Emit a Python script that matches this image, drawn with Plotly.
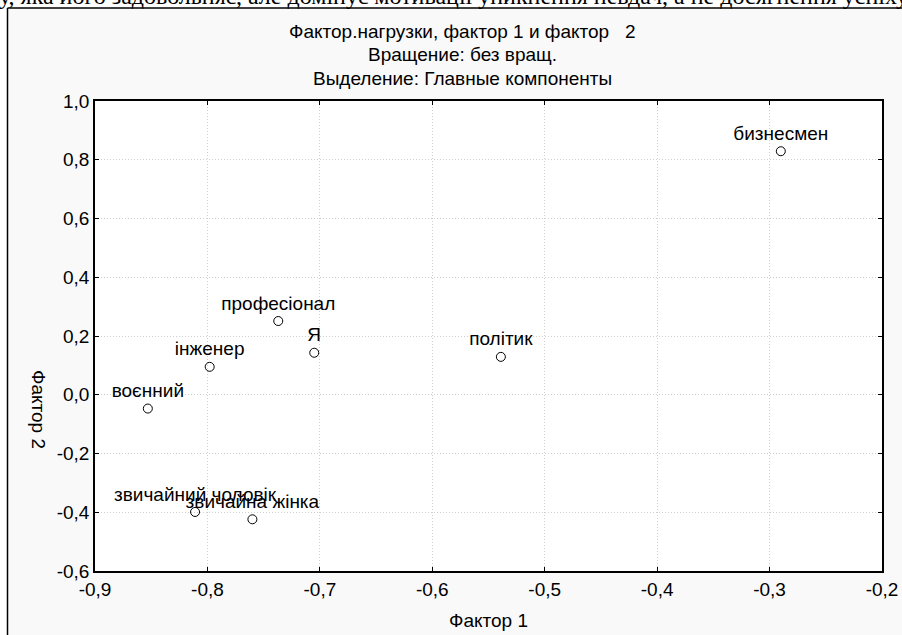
import plotly.graph_objects as go

labels = ["бизнесмен", "професіонал", "Я", "політик", "інженер", "воєнний",
          "звичайний чоловік", "звичайна жінка"]
factor1 = [-0.290, -0.737, -0.705, -0.539, -0.798, -0.853, -0.811, -0.760]
factor2 = [0.829, 0.251, 0.143, 0.129, 0.095, -0.047, -0.399, -0.424]

x_ticks = [-0.9, -0.8, -0.7, -0.6, -0.5, -0.4, -0.3, -0.2]
y_ticks = [-0.6, -0.4, -0.2, 0.0, 0.2, 0.4, 0.6, 0.8, 1.0]
x_ticklabels = ["-0,9", "-0,8", "-0,7", "-0,6", "-0,5", "-0,4", "-0,3", "-0,2"]
y_ticklabels = ["-0,6", "-0,4", "-0,2", "0,0", "0,2", "0,4", "0,6", "0,8", "1,0"]

title_lines = ["Фактор.нагрузки, фактор 1 и фактор\u00a0\u00a0\u00a02",
               "Вращение: без вращ.",
               "Выделение: Главные компоненты"]
x_title = "Фактор 1"
y_title = "Фактор 2"
doc_text = "у, яка його задовольняє, але домінує мотивації уникнення невдач, а не досягнення успіху"

W, H = 902, 635
L, R, T, B = 95, 20, 101, 64
pw, ph = W - L - R, H - T - B

def px(xp):
    return (xp - L) / pw

def py(yp):
    return (H - B - yp) / ph

FONT = "Liberation Sans, Arial, sans-serif"
FS = 19

fig = go.Figure()
fig.add_trace(go.Scatter(
    x=factor1, y=factor2, text=labels, mode="markers+text",
    textposition="top center",
    textfont=dict(family=FONT, size=FS, color="black"),
    marker=dict(symbol="circle-open", size=9, color="black", line=dict(width=1)),
    cliponaxis=False, hoverinfo="skip", showlegend=False))

axis_common = dict(
    showline=True, linecolor="black", linewidth=1.5, mirror="ticks",
    ticks="inside", ticklen=4, tickcolor="black", tickwidth=1,
    showgrid=True, gridcolor="#cfcfcf", griddash="1px,2px", gridwidth=1,
    zeroline=False, tickfont=dict(family=FONT, size=FS, color="black"),
)

fig.update_xaxes(range=[-0.9, -0.2], tickvals=x_ticks, ticktext=x_ticklabels, **axis_common)
fig.update_yaxes(range=[-0.6, 1.0], tickvals=y_ticks, ticktext=y_ticklabels, **axis_common)

annotations = []
for t, yp in zip(title_lines, [32, 55, 78]):
    annotations.append(dict(text=t, x=px(462), y=py(yp), xref="paper", yref="paper",
                            xanchor="center", yanchor="middle", showarrow=False,
                            font=dict(family=FONT, size=FS, color="black")))
annotations.append(dict(text=x_title, x=px(488), y=py(620), xref="paper", yref="paper",
                        xanchor="center", yanchor="middle", showarrow=False,
                        font=dict(family=FONT, size=FS, color="black")))
annotations.append(dict(text=y_title, x=px(39), y=py(409), xref="paper", yref="paper",
                        xanchor="center", yanchor="middle", showarrow=False, textangle=90,
                        font=dict(family=FONT, size=FS, color="black")))
annotations.append(dict(text=doc_text, x=px(-3), y=py(11), xref="paper", yref="paper",
                        xanchor="left", yanchor="bottom", showarrow=False,
                        font=dict(family="Liberation Serif, Times New Roman, serif", size=24, color="black")))

shapes = [
    dict(type="rect", xref="paper", yref="paper", x0=px(-20), x1=px(W + 20), y0=py(8), y1=py(-20),
         fillcolor="white", line=dict(width=0), layer="below"),
    dict(type="rect", xref="paper", yref="paper", x0=px(-20), x1=px(7.5), y0=py(H + 20), y1=py(-20),
         fillcolor="white", line=dict(width=0), layer="below"),
    dict(type="line", xref="paper", yref="paper", x0=px(7.5), x1=px(W + 20), y0=py(8), y1=py(8),
         line=dict(color="black", width=1.5), layer="below"),
    dict(type="line", xref="paper", yref="paper", x0=px(7.5), x1=px(7.5), y0=py(8), y1=py(H + 20),
         line=dict(color="black", width=1.5), layer="below"),
]

fig.update_layout(
    width=W, height=H, margin=dict(l=L, r=R, t=T, b=B, autoexpand=False),
    paper_bgcolor="#f9f9f9", plot_bgcolor="white",
    annotations=annotations, shapes=shapes,
    font=dict(family=FONT, color="black"),
)

fig.write_html("out.html")
